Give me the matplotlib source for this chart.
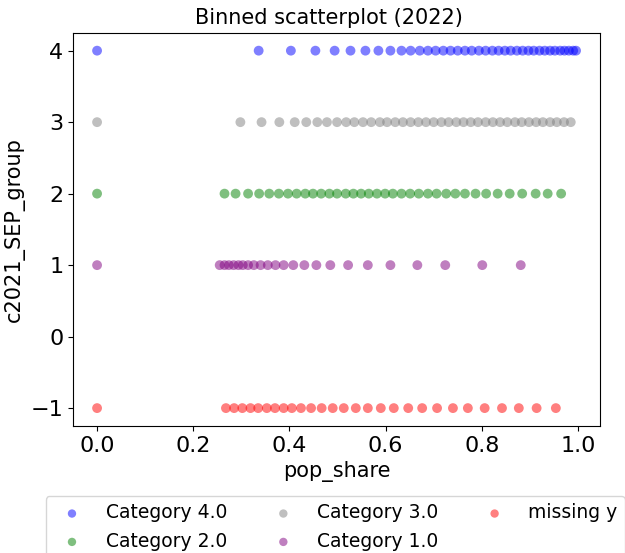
import matplotlib
matplotlib.use("Agg")
import matplotlib.pyplot as plt

# pop_share values per category
cat4_x = [0.0, 0.336, 0.403, 0.454, 0.494, 0.527, 0.558, 0.585, 0.610, 0.633, 0.652, 0.671, 0.688,
          0.704, 0.720, 0.735, 0.750, 0.765, 0.779, 0.794, 0.808, 0.822, 0.835, 0.848, 0.860, 0.873,
          0.885, 0.897, 0.908, 0.920, 0.931, 0.942, 0.952, 0.963, 0.972, 0.981, 0.990, 0.996]
cat3_x = [0.0, 0.298, 0.342, 0.379, 0.411, 0.435, 0.458, 0.478, 0.499, 0.518, 0.535, 0.553, 0.570,
          0.588, 0.603, 0.620, 0.636, 0.652, 0.668, 0.684, 0.700, 0.716, 0.731, 0.747, 0.762, 0.777,
          0.792, 0.808, 0.823, 0.838, 0.853, 0.869, 0.883, 0.898, 0.913, 0.927, 0.942, 0.956, 0.971, 0.985]
cat2_x = [0.0, 0.265, 0.288, 0.314, 0.337, 0.358, 0.378, 0.397, 0.415, 0.433, 0.449, 0.466, 0.483,
          0.499, 0.517, 0.533, 0.549, 0.565, 0.582, 0.599, 0.615, 0.633, 0.651, 0.669, 0.688, 0.706,
          0.726, 0.745, 0.765, 0.787, 0.809, 0.833, 0.858, 0.884, 0.912, 0.937, 0.965]
cat1_x = [0.0, 0.255, 0.265, 0.274, 0.284, 0.294, 0.303, 0.314, 0.326, 0.340, 0.355, 0.371, 0.388,
          0.408, 0.431, 0.456, 0.485, 0.522, 0.563, 0.610, 0.666, 0.724, 0.801, 0.881]
missing_x = [0.0, 0.268, 0.285, 0.302, 0.319, 0.335, 0.353, 0.370, 0.388, 0.405, 0.424, 0.445, 0.467,
             0.490, 0.513, 0.538, 0.563, 0.590, 0.617, 0.647, 0.676, 0.707, 0.740, 0.771, 0.806,
             0.842, 0.877, 0.914, 0.954]

series = [
    ("Category 4.0", cat4_x, 4, "blue"),
    ("Category 2.0", cat2_x, 2, "green"),
    ("Category 3.0", cat3_x, 3, "gray"),
    ("Category 1.0", cat1_x, 1, "purple"),
    ("missing y", missing_x, -1, "red"),
]

fig = plt.figure(figsize=(6.25, 5.53), dpi=100)
ax = fig.add_axes([0.117, 0.2297, 0.843, 0.711])

handles = {}
for label, xs, yv, col in series:
    h = ax.scatter(xs, [yv] * len(xs), s=50, color=col, alpha=0.5,
                   edgecolors="none", label=label)
    handles[label] = h

ax.set_title("Binned scatterplot (2022)", fontsize=15, x=0.485)
ax.set_xlabel("pop_share", fontsize=15)
ax.set_ylabel("c2021_SEP_group", fontsize=15)
ax.tick_params(labelsize=16)

leg_order = ["Category 4.0", "Category 2.0", "Category 3.0", "Category 1.0", "missing y"]
ax.legend([handles[k] for k in leg_order], leg_order, loc="upper left",
          bbox_to_anchor=(-0.052, -0.178), borderaxespad=0, ncol=3,
          fontsize=13.5, markerscale=0.85)

fig.savefig("out.png", dpi=100)
